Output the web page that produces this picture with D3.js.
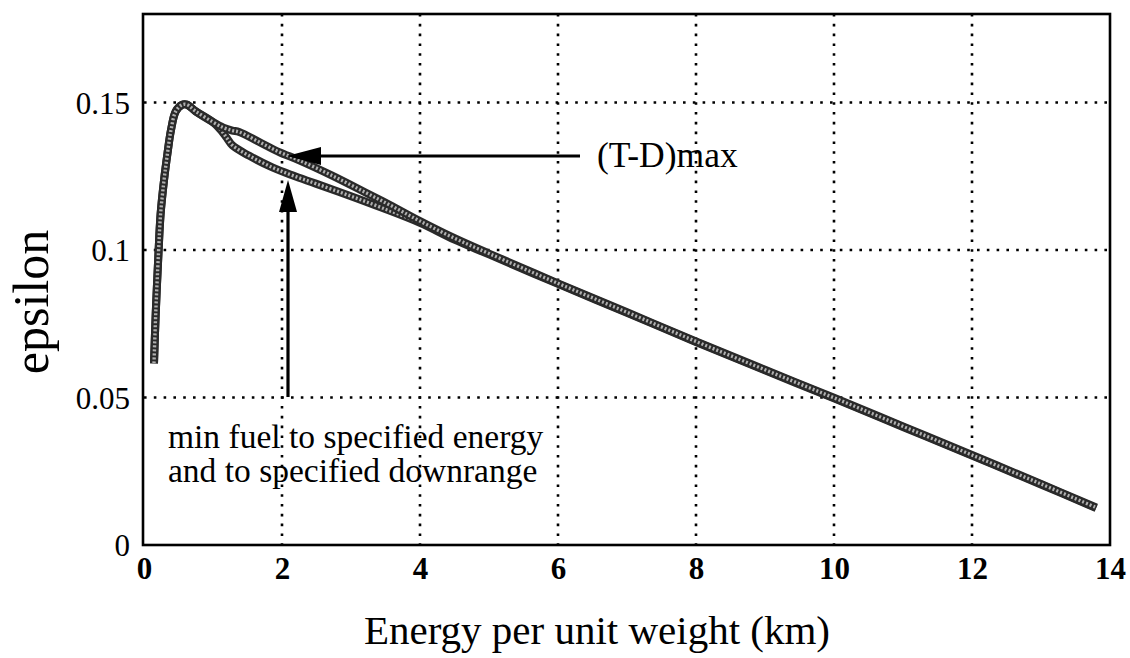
<!DOCTYPE html>
<html>
<head>
<meta charset="utf-8">
<script src="https://cdn.jsdelivr.net/npm/d3@7/dist/d3.min.js"></script>
<style>
  html, body { margin: 0; padding: 0; background: #fff; }
  svg { display: block; }
  text { font-family: "Liberation Serif", "Times New Roman", serif; fill: #000; }
</style>
</head>
<body>
<svg id="chart" width="1130" height="658"></svg>
<script>
// ---- data ----
const xTicks = [0, 2, 4, 6, 8, 10, 12, 14];
const yTicks = [0, 0.05, 0.1, 0.15];
const yTickLabels = ["0", "0.05", "0.1", "0.15"];

// min fuel to specified energy and downrange (lower branch)
const minFuelEnergy = [0.145, 0.17, 0.21, 0.24, 0.29, 0.34, 0.39, 0.46, 0.55, 0.62, 0.75, 0.99, 1.12, 1.2, 1.28, 1.52, 1.86, 2.15, 2.49, 2.97, 3.45, 4.0, 4.5, 5.0, 6.0, 7.0, 8.0, 9.0, 10.0, 11.0, 12.0, 13.0, 13.8];
const minFuelEps    = [0.0616, 0.0785, 0.099, 0.112, 0.1236, 0.1327, 0.1405, 0.147, 0.1492, 0.1493, 0.147, 0.1435, 0.1405, 0.138, 0.1355, 0.132, 0.128, 0.1253, 0.1225, 0.1185, 0.1143, 0.1092, 0.1035, 0.0985, 0.0885, 0.0787, 0.0688, 0.0592, 0.0497, 0.0400, 0.0303, 0.0205, 0.0125];

// (T-D)max (upper branch)
const tdMaxEnergy = [0.145, 0.17, 0.21, 0.24, 0.29, 0.34, 0.39, 0.46, 0.55, 0.62, 0.75, 0.99, 1.15, 1.28, 1.38, 1.67, 1.96, 2.25, 2.72, 3.21, 3.6, 4.0, 4.5, 5.0, 6.0, 7.0, 8.0, 9.0, 10.0, 11.0, 12.0, 13.0, 13.8];
const tdMaxEps    = [0.0616, 0.0785, 0.099, 0.112, 0.1236, 0.1327, 0.1405, 0.147, 0.1492, 0.1493, 0.147, 0.1435, 0.1415, 0.1405, 0.1400, 0.1366, 0.1332, 0.1304, 0.1253, 0.1195, 0.1148, 0.1098, 0.1040, 0.0988, 0.0887, 0.0789, 0.0690, 0.0594, 0.0499, 0.0402, 0.0305, 0.0207, 0.0127];

// ---- layout ----
const svg = d3.select("#chart");
const x = d3.scaleLinear().domain([0, 14]).range([144, 1110]);
const y = d3.scaleLinear().domain([0, 0.18]).range([545, 14]);

// grid
const grid = svg.append("g").attr("stroke", "#000").attr("stroke-width", 2.6)
  .attr("stroke-dasharray", "2.6 7.2").attr("stroke-linecap", "butt");
xTicks.filter(v => v > 0 && v < 14).forEach(v => {
  grid.append("line").attr("x1", x(v)).attr("x2", x(v)).attr("y1", y(0.18)).attr("y2", y(0));
});
yTicks.filter(v => v > 0).forEach(v => {
  grid.append("line").attr("x1", x(0)).attr("x2", x(14)).attr("y1", y(v)).attr("y2", y(v));
});

// frame
svg.append("rect").attr("x", x(0) - 1).attr("y", y(0.18)).attr("width", x(14) - x(0) + 1)
  .attr("height", y(0) - y(0.18)).attr("fill", "none").attr("stroke", "#000").attr("stroke-width", 2.6);

// axes labels via d3 axes (ticks hidden)
const xAxis = d3.axisBottom(x).tickValues(xTicks).tickSize(0).tickPadding(0).tickFormat(d3.format("d"));
const gx = svg.append("g").attr("transform", `translate(0, ${y(0)})`).call(xAxis);
gx.select(".domain").remove();
gx.selectAll("text").attr("font-size", 31).attr("font-weight", "bold")
  .attr("font-family", "Liberation Serif, serif").attr("dy", null).attr("y", 34);

const yAxis = d3.axisLeft(y).tickValues(yTicks).tickSize(0).tickPadding(0).tickFormat((d, i) => yTickLabels[i]);
const gy = svg.append("g").attr("transform", `translate(${x(0) - 14}, 0)`).call(yAxis);
gy.select(".domain").remove();
gy.selectAll("text").attr("font-size", 31).attr("font-family", "Liberation Serif, serif")
  .attr("dy", "0.34em").attr("x", 0);

// curves
const lineN = d3.line().x(d => x(d[0])).y(d => y(d[1])).curve(d3.curveCatmullRom);
function drawCurve(ex, ep) {
  const pts = ex.map((e, i) => [e, ep[i]]);
  svg.append("path").attr("d", lineN(pts)).attr("fill", "none")
    .attr("stroke", "#2a2a2a").attr("stroke-width", 8).attr("stroke-linejoin", "round");
  svg.append("path").attr("d", lineN(pts)).attr("fill", "none")
    .attr("stroke", "#b0b0b0").attr("stroke-width", 3.4).attr("stroke-dasharray", "2 2");
}
drawCurve(minFuelEnergy, minFuelEps);
drawCurve(tdMaxEnergy, tdMaxEps);

// arrows
const arrowG = svg.append("g");
// horizontal arrow to (T-D)max
arrowG.append("line").attr("x1", 580).attr("x2", 315).attr("y1", 156).attr("y2", 156)
  .attr("stroke", "#000").attr("stroke-width", 3.2);
arrowG.append("path").attr("d", "M287,156 L321,147 L321,165 Z").attr("fill", "#000");
// vertical arrow to min fuel branch
arrowG.append("line").attr("x1", 288).attr("x2", 288).attr("y1", 397).attr("y2", 205)
  .attr("stroke", "#000").attr("stroke-width", 3.2);
arrowG.append("path").attr("d", "M288,180 L279,212 L297,212 Z").attr("fill", "#000");

// annotation text
svg.append("text").attr("x", 597).attr("y", 167).attr("font-size", 35.5).text("(T-D)max");
svg.append("text").attr("x", 168).attr("y", 448).attr("font-size", 33.5).text("min fuel to specified energy");
svg.append("text").attr("x", 168).attr("y", 482).attr("font-size", 33.5).text("and to specified downrange");

// axis titles
svg.append("text").attr("x", 597).attr("y", 644).attr("text-anchor", "middle").attr("font-size", 41)
  .text("Energy per unit weight (km)");
svg.append("text").attr("transform", "translate(48, 302) rotate(-90)").attr("text-anchor", "middle")
  .attr("font-size", 50).text("epsilon");
</script>
</body>
</html>
